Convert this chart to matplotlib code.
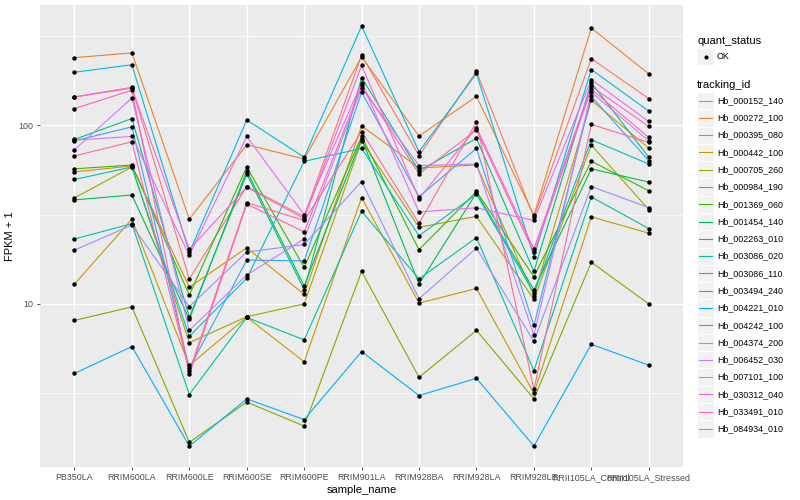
import numpy as np
import matplotlib
matplotlib.use('Agg')
import matplotlib.pyplot as plt
from matplotlib.patches import Rectangle
from matplotlib.ticker import FixedLocator, NullFormatter

plt.rcParams['font.family'] = ['Liberation Sans', 'DejaVu Sans']

samples = ['PB350LA', 'RRIM600LA', 'RRIM600LE', 'RRIM600SE', 'RRIM600PE',
           'RRIM901LA', 'RRIM928BA', 'RRIM928LA', 'RRIM928LE',
           'RRII105LA_Control', 'RRII105LA_Stressed']

tracking_ids = ['Hb_000152_140', 'Hb_000272_100', 'Hb_000395_080', 'Hb_000442_100',
                'Hb_000705_260', 'Hb_000984_190', 'Hb_001369_060', 'Hb_001454_140',
                'Hb_002263_010', 'Hb_003086_020', 'Hb_003086_110', 'Hb_003494_240',
                'Hb_004221_010', 'Hb_004242_100', 'Hb_004374_200', 'Hb_006452_030',
                'Hb_007101_100', 'Hb_030312_040', 'Hb_033491_010', 'Hb_084934_010']

# FPKM + 1 for each gene, one value per sample
hb_000152_140 = [144, 163, 13.8, 45.4, 30.8, 247, 67.5, 200, 30.6, 236, 141]
hb_000272_100 = [239, 254, 29.8, 77.8, 64.7, 241, 87, 145, 31.3, 350, 194]
hb_000395_080 = [54.8, 59.2, 12.4, 20.6, 11.3, 99.1, 57.7, 59.9, 11.1, 138, 74.5]
hb_000442_100 = [12.9, 29.8, 4.52, 8.43, 4.74, 39.3, 10.1, 12.2, 3.16, 30.7, 24.9]
hb_000705_260 = [39.2, 58.4, 6.07, 8.47, 10.0, 81.8, 26.8, 30.9, 10.6, 77.4, 33.7]
hb_000984_190 = [8.08, 9.62, 1.68, 2.82, 2.07, 15.2, 3.88, 7.11, 2.94, 17.1, 10.0]
hb_001369_060 = [57.0, 59.9, 11.2, 58.4, 16.0, 86.5, 20.1, 42.6, 14.2, 62.9, 43.0]
hb_001454_140 = [38.2, 40.7, 8.2, 55.5, 12.6, 84.1, 12.9, 41.9, 12.0, 57.0, 48.1]
hb_002263_010 = [83.3, 109, 8.41, 53.4, 12.0, 185, 55.5, 84.4, 15.2, 173, 66.2]
hb_003086_020 = [23.1, 28.1, 3.11, 8.4, 6.29, 33.0, 13.8, 23.5, 4.23, 39.7, 26.4]
hb_003086_110 = [49.7, 58.4, 6.58, 13.9, 62.7, 74.2, 24.1, 41.1, 11.5, 82.9, 60.7]
hb_003494_240 = [198, 218, 19.4, 107, 66.2, 359, 71.1, 195, 18.4, 205, 120]
hb_004221_010 = [4.08, 5.77, 1.6, 2.94, 2.25, 5.41, 3.07, 3.83, 1.6, 5.94, 4.54]
hb_004242_100 = [81.8, 97.9, 4.35, 17.6, 17.4, 153, 39.8, 74.2, 7.57, 145, 63.3]
hb_004374_200 = [20.0, 27.6, 9.66, 19.5, 21.5, 48.4, 10.7, 20.5, 6.18, 45.4, 34.6]
hb_006452_030 = [72.9, 142, 7.11, 14.5, 23.1, 162, 59.4, 60.7, 6.67, 153, 81.8]
hb_007101_100 = [82.5, 86.5, 18.7, 86.5, 31.6, 173, 32.7, 34.5, 29.3, 180, 105]
hb_030312_040 = [144, 161, 20.2, 45.0, 30.0, 216, 38.8, 97.1, 20.3, 165, 98.4]
hb_033491_010 = [124, 157, 4.03, 36.2, 25.3, 167, 53.4, 94.2, 19.4, 159, 85.5]
hb_084934_010 = [67.3, 80.8, 4.19, 36.9, 29.3, 92.2, 28.2, 104, 3.32, 101, 80.1]

series = [hb_000152_140, hb_000272_100, hb_000395_080, hb_000442_100, hb_000705_260,
          hb_000984_190, hb_001369_060, hb_001454_140, hb_002263_010, hb_003086_020,
          hb_003086_110, hb_003494_240, hb_004221_010, hb_004242_100, hb_004374_200,
          hb_006452_030, hb_007101_100, hb_030312_040, hb_033491_010, hb_084934_010]


def hcl_color(h, c=100.0, l=65.0):
    # polar Luv -> sRGB, same as R's hcl()
    hr = np.radians(h)
    u = c * np.cos(hr)
    v = c * np.sin(hr)
    xn, yn, zn = 95.047, 100.0, 108.883
    un = 4 * xn / (xn + 15 * yn + 3 * zn)
    vn = 9 * yn / (xn + 15 * yn + 3 * zn)
    Y = yn * ((l + 16) / 116) ** 3
    up = u / (13 * l) + un
    vp = v / (13 * l) + vn
    X = 9 * Y * up / (4 * vp)
    Z = Y * (12 - 3 * up - 20 * vp) / (4 * vp)
    x, y, z = X / 100, Y / 100, Z / 100
    rgb = [3.2404542 * x - 1.5371385 * y - 0.4985314 * z,
           -0.9692660 * x + 1.8760108 * y + 0.0415560 * z,
           0.0556434 * x - 0.2040259 * y + 1.0572252 * z]
    out = []
    for t in rgb:
        t = 1.055 * t ** (1 / 2.4) - 0.055 if t > 0.0031308 else 12.92 * t
        out.append(min(max(t, 0), 1))
    return tuple(out)


n = len(tracking_ids)
hues = np.linspace(15, 375, n + 1)[:n]
colors = [hcl_color(h) for h in hues]

fig = plt.figure(figsize=(8, 5), dpi=100)
ax = fig.add_axes([0.05, 0.066, 0.804, 0.924])
ax.set_facecolor('#EBEBEB')
for s in ax.spines.values():
    s.set_visible(False)

xpos = np.arange(1, len(samples) + 1)
for vals, col in zip(series, colors):
    ax.plot(xpos, vals, color=col, lw=0.8, zorder=3)
for vals in series:
    ax.plot(xpos, vals, ls='none', marker='o', ms=3.2, mfc='black', mec='black',
            mew=0, zorder=4)

# log scale with ggplot-like 5% expansion
ax.set_yscale('log')
ax.set_xlim(0.4, len(samples) + 0.6)
ax.set_ylim(10 ** 0.087, 10 ** 2.673)
ax.yaxis.set_major_locator(FixedLocator([10, 100]))
ax.set_yticklabels(['10', '100'])
ax.yaxis.set_minor_locator(FixedLocator([10 ** 0.5, 10 ** 1.5, 10 ** 2.5]))
ax.yaxis.set_minor_formatter(NullFormatter())
ax.set_xticks(xpos)
ax.set_xticklabels(samples)
ax.xaxis.set_minor_locator(FixedLocator([]))

ax.grid(True, which='major', color='white', lw=1.0, zorder=1)
ax.grid(True, which='minor', axis='y', color='white', lw=0.5, zorder=1)
ax.set_axisbelow(True)
ax.tick_params(axis='both', which='major', length=2.5, width=0.6, color='#333333',
               labelsize=6.4, labelcolor='#4D4D4D', pad=2)
ax.tick_params(axis='y', which='minor', length=0)

ax.set_xlabel('sample_name', fontsize=8, labelpad=2)
ax.set_ylabel('FPKM + 1', fontsize=8, labelpad=3)

# legends drawn in pixel-like coordinates on an overlay axes
lg = fig.add_axes([0, 0, 1, 1])
lg.set_xlim(0, 800)
lg.set_ylim(500, 0)
lg.axis('off')

lg.text(697, 41, 'quant_status', fontsize=8, va='center', ha='left')
lg.add_patch(Rectangle((697, 48), 17, 17, facecolor='#F2F2F2', edgecolor='white', lw=0.5))
lg.plot([705.5], [56.5], marker='o', ms=3, color='black', mew=0)
lg.text(717, 56.5, 'OK', fontsize=6.4, va='center', ha='left')

lg.text(697, 85, 'tracking_id', fontsize=8, va='center', ha='left')
key_h = 17.28
top = 92
for i, (name, col) in enumerate(zip(tracking_ids, colors)):
    y0 = top + i * key_h
    lg.add_patch(Rectangle((697, y0), 17, key_h, facecolor='#F2F2F2', edgecolor='white', lw=0.8))
    lg.plot([699, 712], [y0 + key_h / 2] * 2, color=col, lw=0.8)
    lg.text(717, y0 + key_h / 2, name, fontsize=6.4, va='center', ha='left')

fig.savefig('out.png', dpi=100)
